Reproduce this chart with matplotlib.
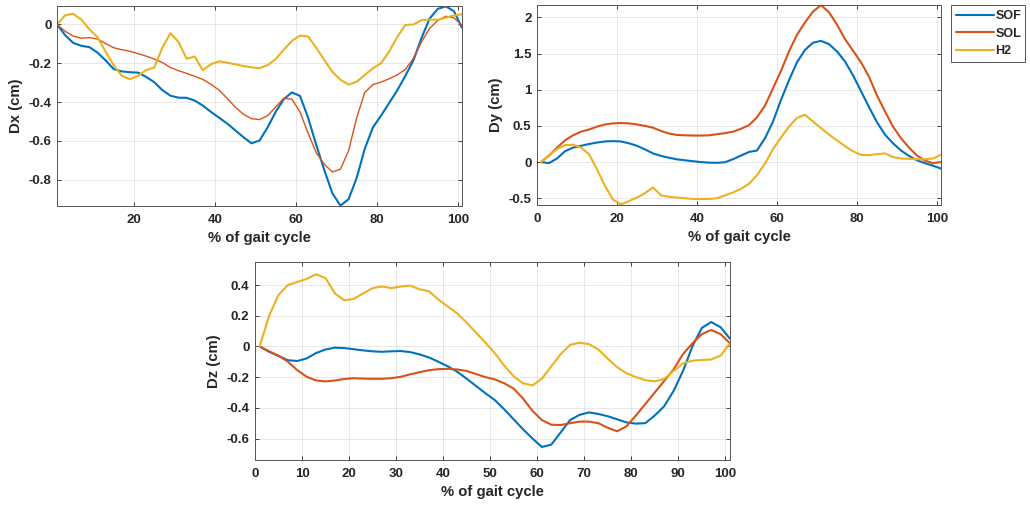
import numpy as np
import matplotlib
matplotlib.use("Agg")
import matplotlib.pyplot as plt
from matplotlib.ticker import FuncFormatter

plt.rcParams['font.family'] = ['Liberation Sans', 'DejaVu Sans']
plt.rcParams['font.weight'] = 'bold'
plt.rcParams['axes.labelweight'] = 'bold'

# % of gait cycle, sampled every 2 %
pct = np.arange(1, 102, 2)

# medio-lateral displacement Dx (cm)
dx_sof = [0, -0.055, -0.095, -0.11, -0.117, -0.145, -0.185, -0.23, -0.242, -0.246,
          -0.248, -0.27, -0.297, -0.338, -0.367, -0.377, -0.378, -0.392, -0.418, -0.45,
          -0.48, -0.51, -0.545, -0.58, -0.612, -0.598, -0.53, -0.45, -0.385, -0.35,
          -0.368, -0.48, -0.62, -0.75, -0.87, -0.933, -0.9, -0.79, -0.64, -0.53,
          -0.47, -0.405, -0.34, -0.265, -0.185, -0.07, 0.03, 0.08, 0.093, 0.069, -0.017]
dx_sol = [0, -0.035, -0.06, -0.071, -0.068, -0.075, -0.098, -0.12, -0.13, -0.138,
          -0.15, -0.163, -0.178, -0.196, -0.222, -0.238, -0.252, -0.267, -0.283, -0.308,
          -0.338, -0.38, -0.425, -0.462, -0.485, -0.49, -0.47, -0.425, -0.38, -0.385,
          -0.45, -0.56, -0.66, -0.72, -0.76, -0.745, -0.65, -0.48, -0.35, -0.31,
          -0.297, -0.28, -0.26, -0.232, -0.175, -0.09, -0.02, 0.02, 0.042, 0.034, -0.005]
dx_h2 = [0, 0.047, 0.055, 0.025, -0.025, -0.065, -0.14, -0.21, -0.265, -0.282,
         -0.265, -0.235, -0.222, -0.12, -0.045, -0.09, -0.177, -0.165, -0.236, -0.205,
         -0.19, -0.197, -0.205, -0.214, -0.221, -0.225, -0.21, -0.178, -0.13, -0.085,
         -0.057, -0.062, -0.12, -0.183, -0.245, -0.285, -0.31, -0.295, -0.26, -0.226,
         -0.2, -0.14, -0.065, -0.003, 0.0, 0.022, 0.025, 0.024, 0.035, 0.046, 0.052]

# vertical displacement Dy (cm)
dy_sof = [0, -0.014, 0.05, 0.15, 0.2, 0.225, 0.25, 0.27, 0.285, 0.29,
          0.285, 0.26, 0.225, 0.175, 0.12, 0.085, 0.06, 0.038, 0.025, 0.012,
          0.0, -0.008, -0.01, -0.002, 0.04, 0.09, 0.14, 0.16, 0.33, 0.56,
          0.86, 1.13, 1.38, 1.55, 1.65, 1.675, 1.63, 1.53, 1.39, 1.2,
          0.98, 0.76, 0.55, 0.38, 0.26, 0.16, 0.085, 0.025, -0.015, -0.05, -0.09]
dy_sol = [0, 0.09, 0.2, 0.3, 0.37, 0.42, 0.45, 0.49, 0.52, 0.535,
          0.54, 0.535, 0.52, 0.5, 0.475, 0.43, 0.395, 0.375, 0.37, 0.367,
          0.367, 0.37, 0.385, 0.4, 0.42, 0.46, 0.51, 0.62, 0.78, 1.02,
          1.26, 1.53, 1.76, 1.93, 2.08, 2.17, 2.07, 1.9, 1.7, 1.54,
          1.38, 1.18, 0.92, 0.7, 0.49, 0.33, 0.2, 0.09, 0.02, -0.015, 0.0]
dy_h2 = [0, 0.09, 0.18, 0.235, 0.24, 0.2, 0.11, -0.1, -0.33, -0.52,
         -0.585, -0.54, -0.49, -0.43, -0.35, -0.46, -0.48, -0.49, -0.5, -0.51,
         -0.51, -0.51, -0.5, -0.46, -0.42, -0.37, -0.3, -0.18, -0.02, 0.18,
         0.34, 0.49, 0.61, 0.655, 0.56, 0.47, 0.38, 0.3, 0.22, 0.15,
         0.1, 0.095, 0.11, 0.12, 0.07, 0.05, 0.045, 0.04, 0.04, 0.05, 0.1]

# antero-posterior displacement Dz (cm)
dz_sof = [0, -0.035, -0.062, -0.09, -0.095, -0.078, -0.043, -0.02, -0.008, -0.011,
          -0.018, -0.026, -0.032, -0.035, -0.032, -0.03, -0.037, -0.052, -0.072, -0.1,
          -0.13, -0.165, -0.21, -0.258, -0.305, -0.35, -0.41, -0.475, -0.54, -0.6,
          -0.655, -0.64, -0.56, -0.48, -0.446, -0.43, -0.44, -0.455, -0.475, -0.495,
          -0.503, -0.5, -0.45, -0.39, -0.29, -0.16, 0.0, 0.12, 0.159, 0.125, 0.05]
dz_sol = [0, -0.032, -0.06, -0.1, -0.155, -0.198, -0.222, -0.228, -0.222, -0.212,
          -0.207, -0.21, -0.211, -0.211, -0.207, -0.198, -0.182, -0.168, -0.155, -0.148,
          -0.146, -0.15, -0.16, -0.18, -0.2, -0.215, -0.24, -0.275, -0.34, -0.42,
          -0.48, -0.51, -0.512, -0.5, -0.49, -0.49, -0.5, -0.53, -0.553, -0.52,
          -0.45, -0.375, -0.3, -0.225, -0.15, -0.05, 0.02, 0.08, 0.107, 0.08, 0.02]
dz_h2 = [0, 0.2, 0.335, 0.4, 0.42, 0.44, 0.47, 0.445, 0.345, 0.3,
         0.31, 0.345, 0.38, 0.39, 0.38, 0.39, 0.396, 0.372, 0.359, 0.305,
         0.26, 0.215, 0.155, 0.09, 0.025, -0.045, -0.125, -0.195, -0.24, -0.254,
         -0.21, -0.13, -0.05, 0.01, 0.024, 0.015, -0.02, -0.08, -0.135, -0.175,
         -0.2, -0.22, -0.228, -0.212, -0.16, -0.11, -0.093, -0.088, -0.085, -0.06, 0.02]

names = ['SOF', 'SOL', 'H2']
colors = ['#0072BD', '#D95319', '#EDB120']
dark = '#262626'

fig = plt.figure(figsize=(10.3, 5.09), dpi=100)
ax_x = fig.add_axes([0.05534, 0.59528, 0.39320, 0.39293])
ax_y = fig.add_axes([0.52136, 0.59725, 0.39223, 0.39293])
ax_z = fig.add_axes([0.24757, 0.09627, 0.46117, 0.38900])

panels = [
    (ax_x, [dx_sof, dx_sol, dx_h2], 'Dx (cm)', (1, 101), (-0.935, 0.095),
     [20, 40, 60, 80, 100], np.arange(-0.8, 0.01, 0.2)),
    (ax_y, [dy_sof, dy_sol, dy_h2], 'Dy (cm)', (0, 101), (-0.593, 2.171),
     np.arange(0, 101, 20), np.arange(-0.5, 2.01, 0.5)),
    (ax_z, [dz_sof, dz_sol, dz_h2], 'Dz (cm)', (0, 101), (-0.74, 0.55),
     np.arange(0, 101, 10), np.arange(-0.6, 0.41, 0.2)),
]

# plain MATLAB-like tick text: '0', '-0.2', '1.5'
fmt = FuncFormatter(lambda v, p: '%g' % (round(v, 3) + 0.0))

for ax, series, ylab, xl, yl, xt, yt in panels:
    for i, vals in enumerate(series):
        lw = 1.0 if (ax is ax_x and i == 1) else 1.5
        ax.plot(pct, vals, color=colors[i], lw=lw, label=names[i],
                solid_joinstyle='round', solid_capstyle='round')
    ax.set_xlim(*xl)
    ax.set_ylim(*yl)
    ax.set_xticks(xt)
    ax.set_yticks(yt)
    ax.xaxis.set_major_formatter(fmt)
    ax.yaxis.set_major_formatter(fmt)
    ax.grid(True, color=dark, alpha=0.12, lw=0.6)
    ax.tick_params(direction='in', length=3, width=0.6, top=True, right=True,
                   labelsize=9.5, colors=dark)
    ax.tick_params(axis='x', pad=6)
    ax.tick_params(axis='y', pad=4)
    for s in ax.spines.values():
        s.set_color('#555555')
        s.set_linewidth(0.7)
    ax.set_xlabel('% of gait cycle', fontsize=10.7, color=dark, labelpad=3.5)
    ax.set_ylabel(ylab, fontsize=10.7, color=dark, labelpad=4)

handles = ax_y.get_lines()
leg = fig.legend(handles, names, loc='upper left',
                 bbox_to_anchor=(951 / 1030, 1 - 5 / 509, 74 / 1030, 0),
                 mode='expand', fontsize=9, handlelength=3.0, handletextpad=0.15,
                 labelspacing=0.45, borderpad=0.4, borderaxespad=0,
                 fancybox=False, framealpha=1)
leg.get_frame().set_edgecolor('#555555')
leg.get_frame().set_linewidth(0.7)
for t in leg.get_texts():
    t.set_color(dark)

fig.savefig('out.png', dpi=100)
